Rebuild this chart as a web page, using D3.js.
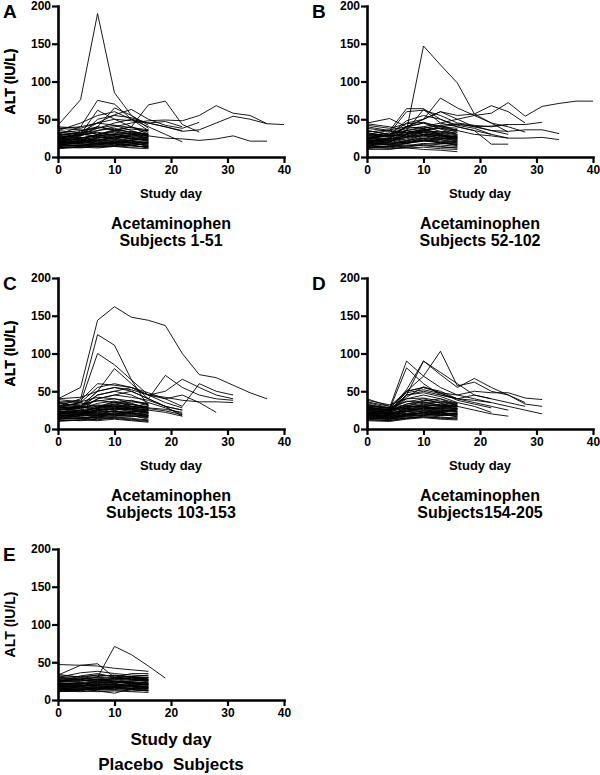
<!DOCTYPE html>
<html><head><meta charset="utf-8">
<script src="https://cdn.jsdelivr.net/npm/d3@7"></script>
<style>
body{margin:0;background:#fff}
text{font-family:"Liberation Sans",Arial,sans-serif;font-weight:bold;fill:#000}
</style></head>
<body><svg id="chart" width="600" height="775"></svg>
<script>
// Study days at which ALT was sampled (index into each subject's value list)
const days = [0,4,7,10,13,16,19,22,25,28,31,34,37,40];
const xTicks = [0,10,20,30,40];
const yTicks = [0,50,100,150,200];

// Panel A: Acetaminophen subjects 1-51 (ALT IU/L per study day)
const panelA = [
 [18,20,22,19,21,17],[15,16,14,17,15,13],[22,25,28,30,26,24],[12,13,15,14,16,12],
 [25,22,27,24,28,30],[20,18,21,23,19,20],[30,28,35,38,32,29],[16,19,17,21,18,15],
 [14,15,18,16,20,19],[35,32,40,36,33,30],[19,21,24,22,25,23],[27,30,32,29,31,27],
 [13,12,14,15,13,14],[24,26,22,27,24,21],[17,15,19,18,16,18],[21,23,26,25,28,26],
 [38,36,30,34,37,35],[11,13,12,14,12,11],[23,20,25,28,24,22],[28,25,29,33,30,36],
 [16,18,20,23,21,17],[32,35,38,42,35,28],[19,17,16,20,22,24],[26,29,33,28,25,22],
 [15,14,17,19,18,16],[40,38,45,42,39,36],[22,24,20,18,23,27],[18,21,25,30,27,25],
 [29,31,27,26,29,32],[14,16,13,15,17,20],[20,22,18,21,19,14],[33,30,28,31,34,30],
 [25,23,30,36,40,33],[17,20,23,25,22,19],[12,14,16,18,15,13],[21,19,22,26,30,28],
 [42,76,190,85,55,38],[30,40,75,70,50,35],[25,30,62,50,40,30],[22,28,40,65,55,42],
 [28,33,45,56,63,50,42,38,46],[20,25,30,35,40,69,74,43,33],
 [24,30,38,45,50,45,40,34,36,45,54,50,44],[30,32,35,40,45,48,49,48,55,68,58,55,44,43],
 [20,25,28,30,32,28,25,24,22,24,28,21,21],[35,45,55,60,50,40,30,20],
 [25,28,50,55,52,45,40,35],[38,40,45,50,48,45,47,40],[15,35,40,35,30,25]
];
// Panel B: Acetaminophen subjects 52-102
const panelB = [
 [16,18,20,22,19,17],[12,14,16,15,13,12],[22,24,28,32,27,25],[14,12,15,18,16,14],
 [25,21,26,30,28,24],[19,17,22,25,21,19],[30,26,33,36,31,28],[17,20,18,23,20,16],
 [13,14,19,21,23,20],[35,30,38,40,34,30],[20,22,26,28,25,22],[28,27,31,33,30,26],
 [11,10,13,16,14,12],[24,25,22,29,26,23],[18,16,20,24,18,17],[21,24,27,30,29,27],
 [38,34,32,36,38,33],[10,11,12,13,11,10],[23,19,24,29,25,21],[27,24,30,35,33,36],
 [15,17,21,27,23,18],[33,36,40,45,37,30],[20,16,18,22,24,25],[26,30,35,38,29,23],
 [16,13,18,21,19,15],[42,38,44,46,40,38],[21,23,19,25,24,28],[19,22,26,33,29,26],
 [30,29,28,34,31,33],[13,15,14,17,18,21],[44,40,35,30,28,26],[32,28,30,35,33,29],
 [18,20,30,38,42,35],[40,35,32,36,38,36],
 [18,22,35,147,122,98,57,45,33],[25,30,40,50,60,55,57,68,60,45],
 [30,28,35,40,45,50,55,58,72,54,67,71,74,74],[20,25,40,50,78,65,55,45,40,33],
 [30,35,64,64,50,40,35,30,25],[28,32,60,62,55,45,42,40,43,43,46],
 [22,30,45,50,60,50,40,35,34,36,36,31],[25,28,40,45,40,35,30,28,25,25,26,23],
 [20,25,35,63,45,40,35,17,17],[45,51,40,38,42,44,40,41,43],
 [15,20,30,35,40,43,41,35,30],[12,14,12,10,9,7],[35,30,48,55,50,42,38,30]
];
// Panel C: Acetaminophen subjects 103-153
const panelC = [
 [17,19,21,20,22,18],[14,15,15,16,14,12],[21,24,27,31,27,25],[11,12,14,15,13,11],
 [24,21,26,25,27,29],[19,18,20,24,20,21],[29,27,34,37,30,28],[15,18,18,22,19,16],
 [13,14,17,17,21,18],[34,31,38,35,32,29],[18,20,23,23,24,22],[26,29,31,30,30,26],
 [12,11,13,14,12,10],[23,25,21,28,25,22],[16,14,18,19,17,17],[20,22,25,26,27,25],
 [36,35,29,33,36,33],[10,12,11,13,11,9],[22,19,24,27,23,21],[27,24,28,32,29,34],
 [15,17,19,24,20,16],[31,33,37,40,34,27],[18,16,15,21,23,23],[25,28,32,29,26,21],
 [14,13,16,18,17,15],[39,36,42,40,37,34],[21,23,19,19,22,26],[17,20,24,29,26,24],
 [28,30,26,27,28,31],[13,15,12,16,16,19],[20,21,17,20,18,13],[32,29,27,30,33,29],
 [24,22,29,35,38,32],[16,19,22,24,21,18],[27,25,30,36,33,28,26,22],
 [20,22,28,33,30,27,24,19],[18,20,25,30,28,25,22,17],
 [40,55,144,162,148,144,137,100,72,68,58,48,40],[30,40,125,111,65,30],
 [28,35,100,85,65,45,35,28],[25,30,50,80,60,40,30,25],
 [20,25,40,45,50,40,71,55,45,40,38],[22,28,45,50,55,45,50,66,55,45,40],
 [25,30,50,55,52,45,40,30,60,50,45],[30,35,55,60,55,48,40,45,35,22],
 [35,38,60,58,55,45,42,38,36,36,35],[40,42,50,55,50,40,30,25],
 [35,30,45,50,45,35,28,20],[30,28,40,45,42,38,30,17]
];
// Panel D: Acetaminophen subjects 154-205
const panelD = [
 [18,16,20,21,22,19],[15,13,16,18,16,14],[22,20,27,30,27,26],[12,11,15,16,15,13],
 [25,21,26,25,28,30],[20,17,21,24,20,21],[29,25,33,36,31,30],[16,15,18,22,19,17],
 [14,13,18,18,21,20],[33,27,37,35,32,30],[19,18,23,24,25,23],[27,24,30,30,31,28],
 [13,11,14,16,14,15],[24,22,23,28,25,23],[17,14,19,20,18,19],[21,20,25,27,28,27],
 [36,30,31,34,36,33],[11,10,13,15,13,12],[23,19,24,28,24,22],[28,23,28,33,30,33],
 [16,15,20,24,22,18],[31,28,36,40,34,29],[19,16,17,22,23,25],[26,24,31,29,26,24],
 [15,13,17,19,19,17],[38,32,40,41,37,34],[22,21,20,20,23,27],[18,18,25,30,27,26],
 [29,26,27,28,29,31],[14,13,14,17,18,21],[20,18,19,22,20,16],[32,27,29,31,33,30],
 [25,22,30,37,40,34],[17,16,23,26,22,20],[27,24,33,38,35,32],[21,19,28,32,30,27],
 [30,28,90,70,55,45,40,35],[25,26,81,60,45,40],[22,25,45,90,75,60,45,40],
 [20,22,50,70,103,57,62,50,45,35],[28,26,52,90,72,55,67,55,45,33,30],
 [40,30,50,55,48,45,50,48,48,41,39],[25,25,45,50,45,40,38,35,30,25,20],
 [30,28,48,52,47,40,45,40,35,30],[22,24,40,45,40,30,25,20,17],
 [25,20,45,48,43,35,30,22],[35,28,50,55,50,40,35,30,25],[28,25,42,56,48,38,33,28]
];
// Panel E: Placebo subjects
const panelE = [
 [17,18,19,18,20,17],[14,15,14,16,15,13],[20,22,24,25,23,22],[12,13,14,13,14,12],
 [22,21,24,22,25,26],[19,18,20,21,19,19],[26,25,28,30,27,26],[15,17,16,19,17,15],
 [13,14,16,15,18,17],[28,27,30,29,28,27],[18,19,21,20,22,21],[24,26,27,25,27,24],
 [12,11,13,14,12,13],[21,23,20,24,22,20],[16,14,17,17,15,16],[20,21,23,22,24,23],
 [30,29,27,28,30,29],[11,12,11,12,11,10],[21,19,22,24,21,20],[25,23,26,28,26,30],
 [15,16,18,20,19,16],[27,29,31,33,30,26],[18,16,15,18,20,21],[23,25,28,25,23,20],
 [14,13,16,17,16,15],[32,31,33,32,31,30],[20,22,19,17,21,24],[17,19,22,25,23,22],
 [25,27,24,23,25,27],[13,15,12,9,15,18],[19,20,17,19,18,13],[29,27,25,27,29,27],
 [22,21,25,29,31,28],[16,18,20,21,19,17],[12,13,15,16,14,12],
 [47,46,45,42,40,38],[33,46,48,30,35,35],[25,28,30,71,60,45,29],
 [30,36,38,35,33,32],[24,32,35,30,28,30],[34,30,33,32,31,33]
];

const panels = [
 {label:"A", data:panelA, left:58,  top:6,   xlab:13, tsize:16, titles:["Acetaminophen","Subjects 1-51"]},
 {label:"B", data:panelB, left:367, top:6,   xlab:13, tsize:16, titles:["Acetaminophen","Subjects 52-102"]},
 {label:"C", data:panelC, left:58,  top:278, xlab:13, tsize:16, titles:["Acetaminophen","Subjects 103-153"]},
 {label:"D", data:panelD, left:367, top:278, xlab:13, tsize:16, titles:["Acetaminophen","Subjects154-205"]},
 {label:"E", data:panelE, left:58,  top:549, xlab:17, tsize:17, titles:["Placebo  Subjects"]}
];
const W = 226, H = 151;
const svg = d3.select("#chart");

panels.forEach(p => {
  const x = d3.scaleLinear().domain([0,40]).range([p.left, p.left+W]);
  const y = d3.scaleLinear().domain([0,200]).range([p.top+H, p.top]);
  const g = svg.append("g");
  const line = d3.line().x((d,i)=>x(days[i])).y(d=>y(d)).defined(d=>d!=null);
  g.append("g").selectAll("path").data(p.data).join("path")
    .attr("d", d=>line(d)).attr("fill","none").attr("stroke","#000")
    .attr("stroke-width",0.9).attr("stroke-linejoin","round");

  const xa = g.append("g").attr("transform",`translate(0,${p.top+H})`)
    .call(d3.axisBottom(x).tickValues(xTicks).tickSize(6).tickSizeOuter(0).tickPadding(2));
  const ya = g.append("g").attr("transform",`translate(${p.left},0)`)
    .call(d3.axisLeft(y).tickValues(yTicks).tickSize(6).tickSizeOuter(0).tickPadding(1));
  [xa,ya].forEach(a=>{
    a.select(".domain").attr("stroke","#000").attr("stroke-width",2.6).attr("stroke-linecap","square");
    a.selectAll(".tick line").attr("stroke","#000").attr("stroke-width",2.2);
    a.selectAll(".tick text").attr("font-size",12).attr("font-weight","bold")
      .attr("font-family","Liberation Sans, Arial, sans-serif").attr("fill","#000");
  });

  // y axis title
  g.append("text").attr("transform",`translate(15,${p.top+H/2}) rotate(-90)`)
    .attr("text-anchor","middle").attr("font-size",14).text("ALT (IU/L)");
  // panel letter
  g.append("text").attr("x", p.left-55).attr("y", p.top+12).attr("font-size",19).text(p.label);
  // x axis title
  const cx = p.left + W/2;
  const big = p.label==="E";
  g.append("text").attr("x",cx).attr("y", big ? p.top+H+45 : p.top+H+41)
    .attr("text-anchor","middle").attr("font-size",p.xlab).text("Study day");
  p.titles.forEach((t,i)=>{
    g.append("text").attr("x",cx).attr("y", big ? p.top+H+70 : p.top+H+72+i*17)
      .attr("text-anchor","middle").attr("font-size",p.tsize)
      .style("white-space","pre").text(t);
  });
});
</script></body></html>
